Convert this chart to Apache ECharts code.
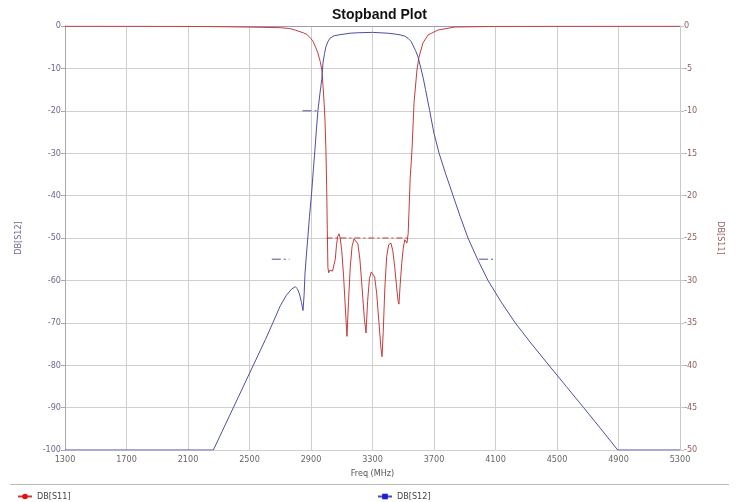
<!DOCTYPE html>
<html>
<head>
<meta charset="utf-8">
<script src="https://cdn.jsdelivr.net/npm/echarts@6/dist/echarts.min.js"></script>
<style>
html,body{margin:0;padding:0;background:#fff;}
#chart{width:736px;height:502px;}
</style>
</head>
<body>
<div id="chart"></div>
<script>
// ---- data ----
var xTicks = [1300, 5300, 400];
var s11Freq = [1300,1800,2200,2400,2568,2700,2763,2800,2850,2874,2900,2913,2930,2945,2960,2971,2978,2985,2991,2997,3002,3006,3010,3015,3022,3030,3040,3050,3058,3066,3074,3082,3090,3100,3112,3124,3134,3144,3155,3167,3180,3193,3205,3218,3232,3247,3258,3268,3280,3292,3303,3314,3327,3342,3355,3362,3370,3380,3392,3405,3420,3432,3445,3458,3467,3472,3480,3490,3500,3510,3518,3524,3532,3537,3545,3557,3570,3589,3602,3628,3661,3726,3837,4100,4500,5300];
var s11dB = [-0.02,-0.03,-0.06,-0.1,-0.15,-0.2,-0.3,-0.5,-0.8,-1.0,-1.5,-1.8,-2.5,-3.2,-4.2,-5.2,-7.0,-9,-11.1,-14.6,-19,-24,-28.5,-29.1,-28.8,-28.6,-28.9,-28.8,-27.5,-25.8,-24.8,-24.5,-25.0,-26.5,-29.5,-33.5,-36.6,-32.5,-28.5,-26,-25.1,-25,-25.7,-27.5,-30.8,-34.5,-36.2,-32.5,-29.8,-29.0,-28.9,-29.6,-31.5,-35,-38,-39,-36,-31,-27.2,-25.8,-25.6,-26.5,-28.5,-31,-32.5,-32.8,-30.5,-28,-26.2,-25.2,-25,-25.6,-24.5,-22,-18,-14.6,-9.1,-5.2,-3.7,-2.0,-1.06,-0.47,-0.12,-0.05,-0.03,-0.02];
var s12Freq = [1300,2265,2395,2525,2603,2652,2700,2740,2775,2798,2812,2825,2838,2848,2855,2861,2870,2878,2890,2904,2915,2926,2935,2945,2958,2971,2978,2988,2997,3010,3023,3050,3089,3154,3200,3300,3400,3446,3480,3510,3531,3550,3563,3580,3596,3615,3630,3645,3672,3698,3733,3777,3824,3871,3921,3983,4051,4135,4228,4335,4447,4560,4673,4785,4895,5300];
var s12dB = [-100,-100,-90,-80,-74,-70,-66,-63.5,-62,-61.5,-62,-63.2,-65.2,-67.1,-63.5,-58.3,-54,-50.5,-45,-39.4,-34,-29,-24.5,-20,-16,-12.3,-8.7,-6.5,-4.9,-3.7,-2.9,-2.3,-2.05,-1.7,-1.6,-1.5,-1.7,-1.9,-2.1,-2.4,-2.9,-3.6,-4.5,-5.8,-7.3,-10,-12.3,-15,-20,-25,-30,-35,-40,-45,-50,-55,-60,-65,-70,-75,-80,-85,-90,-95,-100,-100];
// spec mask segments: [fStart, fEnd, dB]
var s12Spec = [[2845, 2945, -20], [2645, 2760, -55], [3993, 4103, -55]];
var s11Spec = [[3000, 3540, -25]];

function pairs(xs, ys){ return xs.map(function(x,i){ return [x, ys[i]]; }); }

var RED = '#c43c3c', BLUE = '#4e4ea6';
var FONT = "'Liberation Sans Narrow','DejaVu Sans Condensed','Liberation Sans',sans-serif";

var series = [
  {name:'DB[S11]', type:'line', yAxisIndex:1, data:pairs(s11Freq, s11dB), showSymbol:false, symbol:'circle', symbolSize:6,
   lineStyle:{color:RED, width:1}, itemStyle:{color:'#e01010'}, animation:false, z:3},
  {name:'DB[S12]', type:'line', yAxisIndex:0, data:pairs(s12Freq, s12dB), showSymbol:false, symbol:'rect', symbolSize:6,
   lineStyle:{color:BLUE, width:1}, itemStyle:{color:'#1a1ae0'}, animation:false, z:4}
];
s12Spec.forEach(function(s){
  series.push({type:'line', yAxisIndex:0, data:[[s[0], s[2]], [s[1], s[2]]], showSymbol:false, silent:true,
    lineStyle:{color:BLUE, width:1, type:[9,3,2,3]}, animation:false, z:5});
});
s11Spec.forEach(function(s){
  series.push({type:'line', yAxisIndex:1, data:[[s[0], s[2]], [s[1], s[2]]], showSymbol:false, silent:true,
    lineStyle:{color:RED, width:1.2, type:[6,3,2,3]}, animation:false, z:5});
});

var chart = echarts.init(document.getElementById('chart'), null, {renderer:'canvas'});
chart.setOption({
  backgroundColor:'#fff',
  animation:false,
  title:{text:'Stopband Plot', left:327, top:3,
    textStyle:{fontFamily:"'Liberation Sans',Arial,sans-serif", fontSize:14, fontWeight:'bold', color:'#111'}},
  grid:{left:65, right:56, top:26, bottom:52},
  legend:[
    {data:['DB[S11]'], left:12, top:487, itemWidth:14, itemHeight:7, itemGap:5,
     textStyle:{fontFamily:FONT, fontSize:9, color:'#444'}},
    {data:['DB[S12]'], left:372, top:487, itemWidth:14, itemHeight:7, itemGap:5,
     textStyle:{fontFamily:FONT, fontSize:9, color:'#444'}}
  ],
  graphic:[{type:'line', shape:{x1:10, y1:484.5, x2:729, y2:484.5}, style:{stroke:'#bbbbbb', lineWidth:1}}],
  xAxis:{type:'value', min:xTicks[0], max:xTicks[1], interval:xTicks[2],
    name:'Freq (MHz)', nameLocation:'middle', nameGap:16,
    nameTextStyle:{fontFamily:FONT, fontSize:9, color:'#555'},
    axisLine:{show:true, lineStyle:{color:'#9a9ab8'}}, axisTick:{show:false},
    axisLabel:{fontFamily:FONT, fontSize:9, color:'#666', margin:5, formatter:function(v){return String(v);}},
    splitLine:{show:true, lineStyle:{color:'#cfcfcf', width:1}}},
  yAxis:[
    {type:'value', min:-100, max:0, interval:10, position:'left',
     name:'DB[S12]', nameLocation:'middle', nameGap:42, nameRotate:90,
     nameTextStyle:{fontFamily:FONT, fontSize:9, color:'#6a6a9a'},
     axisLine:{show:true, lineStyle:{color:'#aaaaaa'}}, axisTick:{show:true, length:4, lineStyle:{color:'#aaaaaa'}},
     axisLabel:{fontFamily:FONT, fontSize:9, color:'#6a6a90', margin:4},
     splitLine:{show:true, lineStyle:{color:'#cfcfcf', width:1}}},
    {type:'value', min:-50, max:0, interval:5, position:'right',
     name:'DB[S11]', nameLocation:'middle', nameGap:36, nameRotate:-90,
     nameTextStyle:{fontFamily:FONT, fontSize:9, color:'#9a6060'},
     axisLine:{show:true, lineStyle:{color:'#c8c8c8'}}, axisTick:{show:true, length:4, lineStyle:{color:'#c8c8c8'}},
     axisLabel:{fontFamily:FONT, fontSize:9, color:'#946060', margin:4},
     splitLine:{show:false}}
  ],
  series:series
});
</script>
</body>
</html>
